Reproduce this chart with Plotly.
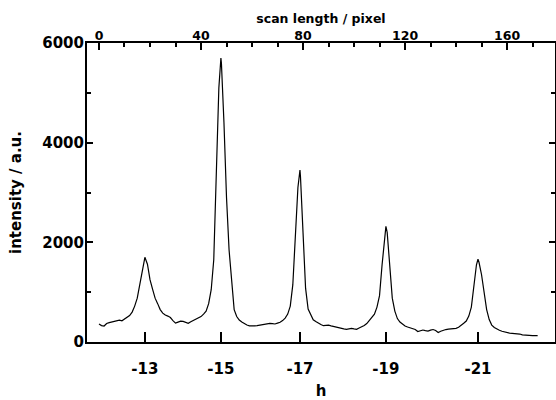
import plotly.graph_objects as go

# scan position (pixel) and measured intensity (a.u.)
pixel = [0, 1, 2, 3, 4, 5, 6, 7, 8, 9, 10, 11, 12, 13, 14, 15, 16, 17, 18, 19,
         20, 21, 22, 23, 24, 25, 26, 27, 28, 29, 30, 31, 32, 33, 34, 35, 36, 37, 38, 39,
         40, 41, 42, 43, 44, 45, 46, 47, 47.8, 48, 49, 50, 51, 52, 53, 54, 55, 56, 57, 58,
         59, 60, 61, 62, 63, 64, 65, 66, 67, 68, 69, 70, 71, 72, 73, 74, 75, 76, 77, 78,
         78.8, 79, 80, 81, 82, 83, 84, 85, 86, 87, 88, 89, 90, 91, 92, 93, 94, 95, 96, 97,
         98, 99, 100, 101, 102, 103, 104, 105, 106, 107, 108, 109, 110, 111, 112, 112.5, 113, 114, 115, 116,
         117, 118, 119, 120, 121, 122, 123, 124, 125, 126, 127, 128, 129, 130, 131, 132, 133, 134, 135, 136,
         137, 138, 139, 140, 141, 142, 143, 144, 145, 146, 147, 148, 148.6, 149, 150, 151, 152, 153, 154, 155,
         156, 157, 158, 159, 160, 161, 162, 163, 164, 165, 166, 167, 168, 169, 170, 171, 172]
intensity = [360, 330, 320, 370, 390, 400, 410, 430, 440, 425, 460, 495, 530, 600, 720, 880, 1170, 1470, 1700, 1560,
             1250, 1060, 880, 770, 650, 580, 540, 520, 490, 430, 380, 400, 420, 415, 400, 375, 405, 435, 465, 490,
             510, 560, 620, 770, 1050, 1650, 3300, 5100, 5700, 5600, 4400, 2900, 1850, 1180, 650, 510, 440, 400, 365, 340,
             325, 320, 325, 330, 340, 350, 360, 368, 374, 368, 361, 378, 395, 430, 480, 560, 720, 1150, 2100, 3100,
             3450, 3320, 2200, 1080, 660, 540, 445, 410, 375, 350, 327, 335, 340, 325, 310, 300, 278, 270, 262, 255,
             265, 274, 262, 255, 280, 300, 330, 370, 430, 480, 560, 700, 930, 1550, 2150, 2320, 2200, 1500, 880, 620,
             470, 400, 350, 320, 300, 285, 275, 250, 210, 225, 240, 228, 220, 238, 250, 230, 190, 215, 240, 250,
             260, 262, 262, 275, 295, 330, 375, 420, 520, 700, 1150, 1550, 1660, 1600, 1350, 1000, 650, 450, 340, 290,
             255, 235, 215, 198, 185, 178, 175, 174, 174, 160, 142, 135, 128, 127, 127, 127, 128]

# reciprocal-lattice index h labels and where they fall on the pixel scale
h_tick_pixel = [18.0, 47.8, 78.8, 112.5, 148.6]
h_tick_text = ["-13", "-15", "-17", "-19", "-21"]

x_range = [-4.7, 178.8]
font_family = "DejaVu Sans"

fig = go.Figure()
fig.add_trace(go.Scatter(x=pixel, y=intensity, mode="lines",
                         line=dict(color="black", width=1.2), xaxis="x", yaxis="y",
                         showlegend=False))
# helper trace so the top (pixel) axis is drawn
fig.add_trace(go.Scatter(x=[pixel[0]], y=[intensity[0]], mode="markers",
                         marker=dict(opacity=0), xaxis="x2", yaxis="y",
                         showlegend=False, hoverinfo="skip"))

axis_font = dict(family=font_family, size=15, color="black", weight="bold")

fig.update_layout(
    width=556, height=400,
    margin=dict(l=87, r=1, t=43, b=58, autoexpand=False),
    paper_bgcolor="white", plot_bgcolor="white",
    font=dict(family=font_family, color="black"),
    xaxis=dict(
        range=x_range, tickmode="array", tickvals=h_tick_pixel, ticktext=h_tick_text,
        ticks="inside", ticklen=10, tickwidth=2, tickcolor="black",
        showline=True, linewidth=2, linecolor="black", showgrid=False, zeroline=False,
        tickfont=axis_font, ticklabelstandoff=12,
        title=dict(text="h", font=dict(family=font_family, size=15, color="black", weight="bold"), standoff=20),
    ),
    xaxis2=dict(
        range=x_range, overlaying="x", side="top", tickmode="linear", tick0=0, dtick=40,
        ticks="inside", ticklen=7, tickwidth=2, tickcolor="black",
        minor=dict(dtick=10, tick0=0, ticks="inside", ticklen=4, tickwidth=1.5, tickcolor="black"),
        showline=True, linewidth=2, linecolor="black", showgrid=False, zeroline=False,
        tickfont=dict(family=font_family, size=12.5, color="black", weight="bold"), ticklabelstandoff=-4,
        title=dict(text="scan length / pixel", font=dict(family=font_family, size=12.5, color="black", weight="bold"), standoff=2),
    ),
    yaxis=dict(
        range=[0, 6000], tickmode="linear", tick0=0, dtick=2000,
        ticks="inside", ticklen=6, tickwidth=2, tickcolor="black",
        minor=dict(dtick=1000, ticks="inside", ticklen=4, tickwidth=1.5, tickcolor="black"),
        showline=True, linewidth=2, linecolor="black", mirror="ticks", showgrid=False, zeroline=False,
        tickfont=axis_font, ticklabelstandoff=-2,
        title=dict(text="intensity / a.u.", font=dict(family=font_family, size=15, color="black", weight="bold"), standoff=17),
    ),
)

# remove the browser's default 8px page margin so the 556x400 figure fills the window
fig.write_html("out.html",
               config={"displayModeBar": False},
               post_script="document.body.style.margin='0';document.body.style.overflow='hidden';")
